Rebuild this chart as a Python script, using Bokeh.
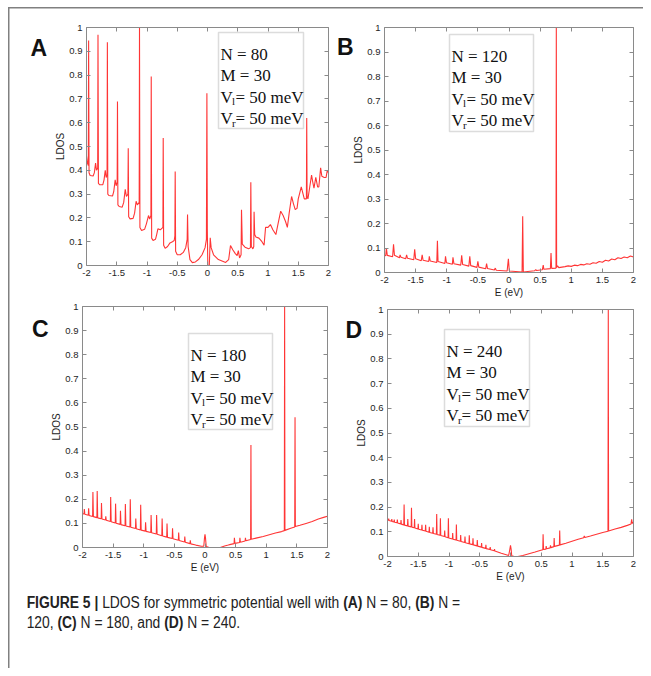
from bokeh.plotting import figure
from bokeh.models import (Range1d, FixedTicker, LinearAxis, BoxAnnotation, Label, Div,
                          ColumnDataSource, GridBox)
from bokeh.layouts import row
from bokeh.embed import file_html
from bokeh.resources import INLINE

# ---------------- data ----------------
x_ticks = [-2, -1.5, -1, -0.5, 0, 0.5, 1, 1.5, 2]
x_tick_labels = ["-2", "-1.5", "-1", "-0.5", "0", "0.5", "1", "1.5", "2"]
y_ticks = [0, 0.1, 0.2, 0.3, 0.4, 0.5, 0.6, 0.7, 0.8, 0.9, 1]
y_tick_labels = ["0", "0.1", "0.2", "0.3", "0.4", "0.5", "0.6", "0.7", "0.8", "0.9", "1"]

panel_letters = ["A", "B", "C", "D"]
N_values = [80, 120, 180, 240]
M_value = 30
V_left_meV = 50
V_right_meV = 50

ldos_A = [
    (-2.00, 0.46), (-1.985, 0.43), (-1.97, 0.42), (-1.965, 0.945), (-1.958, 0.39), (-1.94, 0.378),
    (-1.89, 0.376), (-1.87, 0.39), (-1.85, 0.43), (-1.835, 0.40), (-1.815, 0.41), (-1.81, 0.97),
    (-1.803, 0.345), (-1.78, 0.339), (-1.73, 0.34), (-1.71, 0.36), (-1.69, 0.40), (-1.675, 0.37),
    (-1.66, 0.38), (-1.655, 0.938), (-1.648, 0.30), (-1.63, 0.294), (-1.57, 0.292), (-1.55, 0.31),
    (-1.526, 0.36), (-1.51, 0.335), (-1.493, 0.35), (-1.488, 0.689), (-1.481, 0.255), (-1.46, 0.248),
    (-1.41, 0.245), (-1.385, 0.265), (-1.36, 0.32), (-1.34, 0.29), (-1.315, 0.30), (-1.31, 0.493),
    (-1.303, 0.205), (-1.28, 0.196), (-1.23, 0.198), (-1.205, 0.22), (-1.18, 0.27), (-1.16, 0.255),
    (-1.129, 0.265), (-1.124, 1.0), (-1.117, 0.16), (-1.09, 0.147), (-1.04, 0.152), (-1.01, 0.175),
    (-0.975, 0.21), (-0.955, 0.195), (-0.935, 0.21), (-0.93, 0.794), (-0.923, 0.115), (-0.90, 0.105),
    (-0.86, 0.11), (-0.84, 0.13), (-0.82, 0.154), (-0.78, 0.15), (-0.737, 0.16), (-0.732, 0.536),
    (-0.725, 0.085), (-0.70, 0.072), (-0.66, 0.08), (-0.62, 0.095), (-0.58, 0.10), (-0.55, 0.105),
    (-0.539, 0.125), (-0.534, 0.395), (-0.527, 0.06), (-0.50, 0.045), (-0.45, 0.045), (-0.40, 0.055),
    (-0.36, 0.075), (-0.336, 0.11), (-0.33, 0.214), (-0.32, 0.08), (-0.29, 0.025), (-0.25, 0.012),
    (-0.20, 0.015), (-0.15, 0.025), (-0.09, 0.045), (-0.04, 0.075), (-0.018, 0.11), (-0.01, 0.724),
    (-0.003, 0.15), (0.005, 0.0), (0.03, 0.0), (0.045, 0.116), (0.06, 0.075), (0.10, 0.045),
    (0.18, 0.025), (0.30, 0.013), (0.35, 0.025), (0.38, 0.084), (0.42, 0.065), (0.46, 0.05),
    (0.49, 0.042), (0.51, 0.063), (0.53, 0.032), (0.555, 0.045), (0.562, 0.234), (0.575, 0.09),
    (0.62, 0.077), (0.68, 0.07), (0.71, 0.075), (0.716, 0.35), (0.725, 0.08), (0.75, 0.07),
    (0.765, 0.08), (0.77, 0.226), (0.78, 0.13), (0.80, 0.12), (0.85, 0.115), (0.90, 0.10),
    (0.935, 0.085), (0.96, 0.16), (1.00, 0.16), (1.04, 0.172), (1.08, 0.15), (1.13, 0.13),
    (1.17, 0.18), (1.21, 0.228), (1.25, 0.21), (1.29, 0.185), (1.32, 0.16), (1.35, 0.22),
    (1.39, 0.29), (1.42, 0.26), (1.45, 0.235), (1.48, 0.24), (1.50, 0.28), (1.52, 0.30),
    (1.55, 0.33), (1.58, 0.30), (1.60, 0.28), (1.635, 0.28), (1.64, 0.62), (1.646, 0.29),
    (1.66, 0.28), (1.69, 0.33), (1.72, 0.38), (1.74, 0.35), (1.76, 0.325), (1.79, 0.37),
    (1.82, 0.33), (1.84, 0.33), (1.87, 0.41), (1.89, 0.375), (1.93, 0.37), (1.96, 0.37),
    (1.98, 0.40), (2.00, 0.39),
]

ldos_B = [
    (-2.00, 0.07), (-1.98, 0.068), (-1.97, 0.10), (-1.955, 0.07), (-1.87, 0.064), (-1.855, 0.115),
    (-1.84, 0.07), (-1.76, 0.06), (-1.75, 0.072), (-1.735, 0.062), (-1.66, 0.056), (-1.645, 0.072),
    (-1.63, 0.058), (-1.53, 0.052), (-1.515, 0.095), (-1.50, 0.056), (-1.41, 0.048), (-1.395, 0.072),
    (-1.38, 0.05), (-1.29, 0.045), (-1.28, 0.066), (-1.265, 0.047), (-1.16, 0.041), (-1.15, 0.13),
    (-1.14, 0.045), (-1.03, 0.037), (-1.02, 0.066), (-1.005, 0.04), (-0.91, 0.034), (-0.90, 0.062),
    (-0.885, 0.036), (-0.775, 0.03), (-0.76, 0.07), (-0.745, 0.033), (-0.645, 0.026), (-0.63, 0.066),
    (-0.615, 0.028), (-0.515, 0.021), (-0.50, 0.046), (-0.485, 0.022), (-0.375, 0.015), (-0.36, 0.036),
    (-0.345, 0.016), (-0.235, 0.01), (-0.22, 0.018), (-0.205, 0.009), (-0.03, 0.006), (-0.01, 0.056),
    (0.005, 0.006), (0.21, 0.002), (0.22, 0.23), (0.23, 0.002), (0.41, 0.007), (0.43, 0.012),
    (0.445, 0.008), (0.535, 0.011), (0.55, 0.03), (0.56, 0.013), (0.665, 0.016), (0.675, 0.08),
    (0.685, 0.017), (0.755, 0.018), (0.76, 1.0), (0.765, 0.02), (0.78, 0.027), (0.80, 0.02),
    (0.90, 0.024), (0.95, 0.027), (1.00, 0.025), (1.05, 0.03), (1.10, 0.028), (1.15, 0.033),
    (1.20, 0.031), (1.25, 0.036), (1.30, 0.034), (1.35, 0.04), (1.40, 0.038), (1.45, 0.045),
    (1.50, 0.042), (1.55, 0.05), (1.60, 0.047), (1.65, 0.055), (1.70, 0.052), (1.75, 0.06),
    (1.80, 0.057), (1.85, 0.063), (1.90, 0.06), (1.95, 0.067), (2.00, 0.063),
]

ldos_C = [
    (-2.00, 0.14), (-1.975, 0.139), (-1.97, 0.16), (-1.962, 0.138), (-1.905, 0.134), (-1.90, 0.163),
    (-1.892, 0.133), (-1.835, 0.129), (-1.83, 0.23), (-1.822, 0.128), (-1.765, 0.124), (-1.76, 0.234),
    (-1.752, 0.123), (-1.695, 0.119), (-1.69, 0.185), (-1.682, 0.118), (-1.625, 0.114), (-1.62, 0.129),
    (-1.612, 0.113), (-1.545, 0.108), (-1.54, 0.21), (-1.532, 0.107), (-1.465, 0.102), (-1.46, 0.182),
    (-1.452, 0.101), (-1.385, 0.096), (-1.38, 0.152), (-1.372, 0.095), (-1.305, 0.09), (-1.30, 0.18),
    (-1.292, 0.089), (-1.225, 0.085), (-1.22, 0.20), (-1.212, 0.084), (-1.135, 0.079), (-1.13, 0.12),
    (-1.122, 0.078), (-1.055, 0.073), (-1.05, 0.177), (-1.042, 0.072), (-0.975, 0.068), (-0.97, 0.105),
    (-0.962, 0.067), (-0.885, 0.062), (-0.88, 0.135), (-0.872, 0.061), (-0.795, 0.056), (-0.79, 0.135),
    (-0.782, 0.055), (-0.705, 0.049), (-0.70, 0.12), (-0.692, 0.048), (-0.625, 0.043), (-0.62, 0.10),
    (-0.612, 0.042), (-0.535, 0.037), (-0.53, 0.08), (-0.522, 0.036), (-0.435, 0.03), (-0.43, 0.062),
    (-0.422, 0.029), (-0.335, 0.023), (-0.33, 0.045), (-0.322, 0.022), (-0.245, 0.016), (-0.24, 0.03),
    (-0.232, 0.015), (-0.15, 0.01), (-0.06, 0.005), (-0.02, 0.005), (-0.008, 0.04), (0.0, 0.055),
    (0.008, 0.04), (0.02, 0.004), (0.06, 0.001), (0.10, 0.0), (0.25, 0.0), (0.32, 0.006),
    (0.38, 0.01), (0.42, 0.013), (0.475, 0.016), (0.48, 0.04), (0.488, 0.017), (0.565, 0.021),
    (0.57, 0.04), (0.578, 0.022), (0.655, 0.027), (0.66, 0.04), (0.668, 0.028), (0.745, 0.033),
    (0.75, 0.425), (0.755, 0.034), (0.85, 0.04), (0.95, 0.046), (1.05, 0.053), (1.15, 0.06),
    (1.25, 0.066), (1.295, 0.07), (1.30, 1.0), (1.305, 0.071), (1.40, 0.08), (1.465, 0.085),
    (1.47, 0.54), (1.475, 0.087), (1.55, 0.092), (1.65, 0.10), (1.75, 0.108), (1.85, 0.118),
    (1.95, 0.126), (2.00, 0.13),
]

ldos_D = [
    (-2.00, 0.148), (-1.985, 0.147), (-1.98, 0.153), (-1.975, 0.146), (-1.935, 0.143), (-1.93, 0.152),
    (-1.925, 0.142), (-1.895, 0.14), (-1.89, 0.15), (-1.885, 0.139), (-1.845, 0.137), (-1.84, 0.15),
    (-1.835, 0.136), (-1.785, 0.132), (-1.78, 0.148), (-1.775, 0.131), (-1.735, 0.128), (-1.73, 0.21),
    (-1.724, 0.127), (-1.675, 0.124), (-1.67, 0.152), (-1.664, 0.123), (-1.615, 0.12), (-1.61, 0.197),
    (-1.604, 0.119), (-1.565, 0.116), (-1.56, 0.152), (-1.554, 0.115), (-1.505, 0.111), (-1.50, 0.132),
    (-1.494, 0.11), (-1.445, 0.107), (-1.44, 0.128), (-1.434, 0.106), (-1.385, 0.103), (-1.38, 0.128),
    (-1.374, 0.102), (-1.325, 0.098), (-1.32, 0.12), (-1.314, 0.097), (-1.265, 0.094), (-1.26, 0.118),
    (-1.254, 0.093), (-1.205, 0.09), (-1.20, 0.172), (-1.194, 0.089), (-1.145, 0.086), (-1.14, 0.155),
    (-1.134, 0.085), (-1.075, 0.081), (-1.07, 0.105), (-1.064, 0.08), (-1.015, 0.076), (-1.01, 0.155),
    (-1.004, 0.075), (-0.945, 0.071), (-0.94, 0.095), (-0.934, 0.07), (-0.885, 0.067), (-0.88, 0.13),
    (-0.874, 0.066), (-0.815, 0.062), (-0.81, 0.087), (-0.804, 0.061), (-0.745, 0.057), (-0.74, 0.081),
    (-0.734, 0.056), (-0.675, 0.052), (-0.67, 0.086), (-0.664, 0.051), (-0.615, 0.048), (-0.61, 0.074),
    (-0.604, 0.047), (-0.545, 0.043), (-0.54, 0.067), (-0.534, 0.042), (-0.475, 0.038), (-0.47, 0.054),
    (-0.464, 0.037), (-0.405, 0.033), (-0.40, 0.047), (-0.394, 0.032), (-0.335, 0.028), (-0.33, 0.038),
    (-0.324, 0.027), (-0.265, 0.023), (-0.26, 0.03), (-0.254, 0.022), (-0.15, 0.013), (-0.03, 0.004),
    (-0.01, 0.03), (0.0, 0.045), (0.01, 0.03), (0.02, 0.003), (0.06, 0.0), (0.12, 0.0),
    (0.20, 0.004), (0.30, 0.011), (0.40, 0.018), (0.48, 0.024), (0.525, 0.027), (0.53, 0.09),
    (0.537, 0.028), (0.575, 0.03), (0.58, 0.042), (0.587, 0.031), (0.645, 0.035), (0.65, 0.045),
    (0.657, 0.036), (0.705, 0.04), (0.71, 0.075), (0.716, 0.041), (0.795, 0.046), (0.80, 0.105),
    (0.806, 0.047), (0.90, 0.054), (1.00, 0.062), (1.10, 0.07), (1.19, 0.076), (1.20, 0.083),
    (1.21, 0.077), (1.30, 0.083), (1.40, 0.09), (1.50, 0.097), (1.585, 0.102), (1.59, 1.0),
    (1.595, 0.103), (1.70, 0.111), (1.80, 0.118), (1.90, 0.126), (1.96, 0.132), (1.97, 0.15),
    (1.98, 0.134), (2.00, 0.137),
]

# ---------------- styling ----------------
AXIS_COLOR = "#8a8a8a"
LABEL_COLOR = "#1e1e1e"
LINE_COLOR = "#ff3535"
SANS = "Liberation Sans"
SERIF = "Liberation Serif"
PAGE_W, PAGE_H = 643, 668
TOP_H, BOT_H = 300, 285


def style_axis(ax, ticks, labels, show):
    ax.ticker = FixedTicker(ticks=ticks)
    ax.axis_line_color = AXIS_COLOR
    ax.axis_line_width = 1
    ax.major_tick_line_color = AXIS_COLOR
    ax.major_tick_in = 4
    ax.major_tick_out = 0
    ax.minor_tick_in = 0
    ax.minor_tick_out = 0
    ax.minor_tick_line_color = None
    if show:
        ax.major_label_overrides = {t: l for t, l in zip(ticks, labels)}
        ax.major_label_text_font = SANS
        ax.major_label_text_font_size = "9.5px"
        ax.major_label_text_color = LABEL_COLOR
        ax.major_label_standoff = 4
    else:
        ax.major_label_text_color = None
        ax.major_label_text_font_size = "1px"
        ax.major_label_standoff = 0


def make_panel(geom, data, n_val, show_xlabel):
    w, h, ml, mr, mt, mb = geom["size"]
    fw = w - ml - mr
    fh = h - mt - mb

    def fx(px):
        return -2 + 4.0 * px / fw

    def fy(py):
        return 1 - py / fh

    p = figure(width=w, height=h, x_range=Range1d(-2, 2), y_range=Range1d(0, 1),
               output_backend="svg", toolbar_location=None, title=None,
               min_border_left=ml, min_border_right=mr, min_border_top=mt, min_border_bottom=mb,
               background_fill_color="white", border_fill_color=None,
               outline_line_color=None, frame_align=False)
    p.grid.visible = False
    bottom_ax = p.below[0]
    left_ax = p.left[0]

    E = [d[0] for d in data]
    L = [d[1] for d in data]
    src = ColumnDataSource(data=dict(E=E, L=L))
    p.line("E", "L", source=src, line_color=LINE_COLOR, line_width=1.1)

    style_axis(bottom_ax, x_ticks, x_tick_labels, True)
    style_axis(left_ax, y_ticks, y_tick_labels, True)
    left_ax.axis_label = "LDOS"
    left_ax.axis_label_text_font = SANS
    left_ax.axis_label_text_font_size = "10px"
    left_ax.axis_label_text_font_style = "normal"
    left_ax.axis_label_text_color = LABEL_COLOR
    left_ax.axis_label_standoff = 0
    if show_xlabel:
        bottom_ax.axis_label = "E (eV)"
        bottom_ax.axis_label_text_font = SANS
        bottom_ax.axis_label_text_font_size = "10px"
        bottom_ax.axis_label_text_font_style = "normal"
        bottom_ax.axis_label_text_color = LABEL_COLOR
        bottom_ax.axis_label_standoff = 1

    top_ax = LinearAxis()
    right_ax = LinearAxis()
    style_axis(top_ax, x_ticks, x_tick_labels, False)
    style_axis(right_ax, y_ticks, y_tick_labels, False)
    p.add_layout(top_ax, "above")
    p.add_layout(right_ax, "right")

    # parameter box
    bx0, by0, bx1, by1 = geom["box"]
    p.add_layout(BoxAnnotation(left=fx(bx0), right=fx(bx1), top=fy(by0), bottom=fy(by1),
                               fill_color="white", fill_alpha=1.0,
                               line_color="#8c8c8c", line_width=1.5, level="overlay"))
    tx = fx(bx0 + 2)
    ty = fy(by0 + 21.5)
    step = 21.5
    common = dict(text_font=SERIF, text_font_size="17px", text_color="#111111",
                  text_baseline="alphabetic", text_align="left", level="overlay")
    p.add_layout(Label(x=tx, y=ty, text=f"N = {n_val}", **common))
    p.add_layout(Label(x=tx, y=ty, y_offset=-step, text=f"M = {M_value}", **common))
    for k, (sub, val) in enumerate([("l", V_left_meV), ("r", V_right_meV)]):
        yo = -step * (2 + k)
        p.add_layout(Label(x=tx, y=ty, y_offset=yo, text="V", **common))
        sub_kw = dict(common)
        sub_kw["text_font_size"] = "11px"
        p.add_layout(Label(x=tx, y=ty, x_offset=11.5, y_offset=yo - 4, text=sub, **sub_kw))
        p.add_layout(Label(x=tx, y=ty, x_offset=15, y_offset=yo, text=f"= {val} meV", **common))
    return p


# figure geometry: (width, height, border left, right, top, bottom) in px
geoms = [
    dict(size=(334, TOP_H, 86, 6, 27, 35), box=(132, 5, 217, 101)),
    dict(size=(309, TOP_H, 50, 10, 27, 28), box=(65, 7, 149, 104)),
    dict(size=(334, BOT_H, 82, 7, 6, 38), box=(106, 27, 190, 123)),
    dict(size=(309, BOT_H, 53, 10, 9, 29), box=(57, 20, 142, 117)),
]
datasets = [ldos_A, ldos_B, ldos_C, ldos_D]
show_x = [False, True, True, True]

panels = [make_panel(g, d, n, s) for g, d, n, s in zip(geoms, datasets, N_values, show_x)]

caption_html = (
    '<div style="padding:0 0 0 25px; margin-top:3px; font-family:\'Liberation Sans\', sans-serif; '
    'font-size:16px; line-height:20px; color:#222; white-space:nowrap; '
    'transform:scaleX(0.866); transform-origin:0 0;">'
    '<b>FIGURE 5 |</b> LDOS for symmetric potential well with <b>(A)</b> N = 80, <b>(B)</b> N =<br>'
    '120, <b>(C)</b> N = 180, and <b>(D)</b> N = 240.</div>'
)
caption = Div(text=caption_html, width=PAGE_W, height=PAGE_H - TOP_H - BOT_H)

# transparent overlay carrying the panel letters and the figure frame (page pixel units)
overlay = figure(width=PAGE_W, height=PAGE_H, x_range=Range1d(0, PAGE_W), y_range=Range1d(PAGE_H, 0),
                 x_axis_type=None, y_axis_type=None, output_backend="svg", toolbar_location=None,
                 title=None, min_border=0, background_fill_color=None, border_fill_color=None,
                 outline_line_color=None, frame_align=False)
overlay.grid.visible = False
FRAME_GRAY = "#808080"
overlay.add_layout(BoxAnnotation(left=7.5, right=9, top=6.5, bottom=PAGE_H + 20,
                                 fill_color=FRAME_GRAY, fill_alpha=1.0, line_color=None))
overlay.add_layout(BoxAnnotation(left=7.5, right=PAGE_W + 20, top=6.5, bottom=8,
                                 fill_color=FRAME_GRAY, fill_alpha=1.0, line_color=None))
letter_pos = [(30, 47), (336.5, 46.7), (31.5, 328.3), (345, 329.3)]
for letter, (lx, ly) in zip(panel_letters, letter_pos):
    overlay.add_layout(Label(x=lx, y=ly, text=letter, text_font=SANS, text_font_style="bold",
                             text_font_size="23px", text_color="#111111",
                             text_baseline="alphabetic", text_align="left"))

layout = GridBox(children=[
    (row(panels[0], panels[1]), 0, 0),
    (row(panels[2], panels[3]), 1, 0),
    (caption, 2, 0),
    (overlay, 0, 0, 3, 1),
])

open("out.html", "w").write(file_html(layout, INLINE))
